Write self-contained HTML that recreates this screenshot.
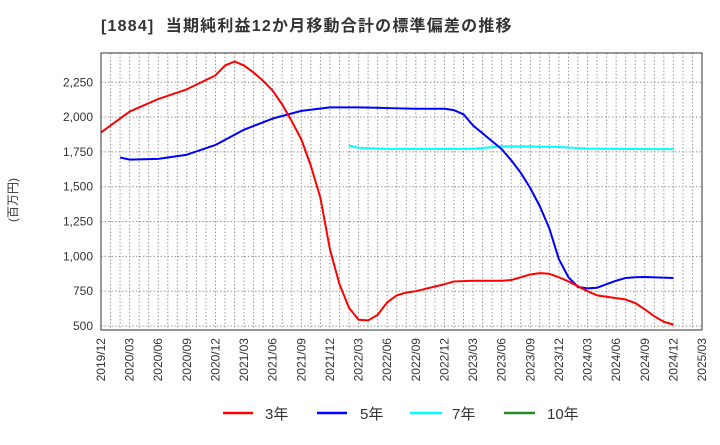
<!DOCTYPE html>
<html><head><meta charset="utf-8"><style>
body{margin:0;background:#fff;font-family:"Liberation Sans","Noto Sans CJK JP",sans-serif;}
svg text{font-family:"Liberation Sans","Noto Sans CJK JP",sans-serif;}
</style></head><body>
<svg id="chart" width="720" height="440" xmlns="http://www.w3.org/2000/svg">
<text x="101" y="31" font-size="16" font-weight="bold" letter-spacing="1.2" fill="#333" xml:space="preserve">[1884]  当期純利益12か月移動合計の標準偏差の推移</text>
<text transform="translate(17,200) rotate(-90)" font-size="12" fill="#333" text-anchor="middle">(百万円)</text>
<g id="grid"></g><g id="series"></g><g id="axes"></g>
<g>
<line x1="223" y1="413" x2="253" y2="413" stroke="#ff0000" stroke-width="2.5"/>
<text x="265" y="419" font-size="15" fill="#333">3年</text>
<line x1="317" y1="413" x2="347" y2="413" stroke="#0000ff" stroke-width="2.5"/>
<text x="360" y="419" font-size="15" fill="#333">5年</text>
<line x1="410" y1="413" x2="442" y2="413" stroke="#00ffff" stroke-width="2.5"/>
<text x="452" y="419" font-size="15" fill="#333">7年</text>
<line x1="504" y1="413" x2="535" y2="413" stroke="#228b22" stroke-width="2.5"/>
<text x="547" y="419" font-size="15" fill="#333">10年</text>
</g>
</svg>
<script>
const xTickLabels=["2019/12","2020/03","2020/06","2020/09","2020/12","2021/03","2021/06","2021/09","2021/12","2022/03","2022/06","2022/09","2022/12","2023/03","2023/06","2023/09","2023/12","2024/03","2024/06","2024/09","2024/12","2025/03"];
const yTicks=[500,750,1000,1250,1500,1750,2000,2250];
const s3Dates=["2019/12","2020/03","2020/06","2020/09","2020/12","2021/01","2021/02","2021/03","2021/04","2021/05","2021/06","2021/07","2021/08","2021/09","2021/10","2021/11","2021/12","2022/01","2022/02","2022/03","2022/04","2022/05","2022/06","2022/07","2022/08","2022/09","2022/12","2023/01","2023/03","2023/06","2023/07","2023/09","2023/10","2023/11","2023/12","2024/01","2024/03","2024/04","2024/06","2024/07","2024/08","2024/09","2024/10","2024/11","2024/12"];
const s3Values=[1890,2040,2130,2200,2300,2370,2400,2370,2320,2260,2190,2090,1970,1840,1650,1420,1050,800,630,545,540,580,670,720,740,750,800,820,825,825,830,870,880,875,850,820,750,720,700,690,665,620,570,530,510];
const s5Dates=["2020/02","2020/03","2020/06","2020/09","2020/12","2021/03","2021/06","2021/09","2021/12","2022/03","2022/06","2022/09","2022/12","2023/01","2023/02","2023/03","2023/06","2023/07","2023/08","2023/09","2023/10","2023/11","2023/12","2024/01","2024/02","2024/03","2024/04","2024/05","2024/06","2024/07","2024/08","2024/09","2024/12"];
const s5Values=[1710,1695,1700,1730,1800,1910,1990,2045,2070,2070,2065,2060,2060,2050,2020,1940,1770,1690,1600,1490,1360,1200,980,850,780,770,775,800,825,845,850,852,845];
const s7Dates=["2022/02","2022/03","2022/06","2022/09","2022/12","2023/03","2023/06","2023/09","2023/12","2024/03","2024/06","2024/09","2024/12"];
const s7Values=[1795,1780,1772,1772,1772,1773,1790,1790,1785,1775,1772,1770,1770];
const NS="http://www.w3.org/2000/svg";
const L=101,R=702,T=53,B=330;
function mi(d){const[y,m]=d.split("/").map(Number);return (y-2019)*12+m-12;}
function xS(d){return L+mi(d)*(R-L)/63;}
function yS(v){return 326-(v-500)*(326-82.3)/1750;}
function el(t,a,p){const e=document.createElementNS(NS,t);for(const k in a)e.setAttribute(k,a[k]);p.appendChild(e);return e;}
const grid=document.getElementById("grid"),axes=document.getElementById("axes"),ser=document.getElementById("series");
for(let m=1;m<63;m++){const x=L+m*(R-L)/63;const g=el("line",{x1:x,y1:T,x2:x,y2:B,stroke:"#999","stroke-dasharray":"1.5,2","stroke-width":1},grid);

}
yTicks.forEach(v=>{const y=yS(v);const g=el("line",{x1:L,y1:y,x2:R,y2:y,stroke:"#999","stroke-dasharray":"1.5,2","stroke-width":1},grid);


const t=el("text",{x:L-8,y:y+4,"font-size":12,fill:"#333","text-anchor":"end"},axes);t.textContent=v.toLocaleString("en-US");

});
xTickLabels.forEach(d=>{const x=xS(d);const t=el("text",{transform:`translate(${x+4},${B+8}) rotate(-90)`,"font-size":12,fill:"#333","text-anchor":"end"},axes);t.textContent=d;

});
const fr=el("rect",{x:L,y:T,width:R-L,height:B-T,fill:"none",stroke:"#333","stroke-width":1},axes);


function line(ds,vs,c,n){const p=el("polyline",{points:ds.map((d,i)=>xS(d)+","+yS(vs[i])).join(" "),fill:"none",stroke:c,"stroke-width":2,"stroke-linejoin":"round"},ser);

}
line(s7Dates,s7Values,"#00ffff","series-7y");
line(s5Dates,s5Values,"#0000ff","series-5y");
line(s3Dates,s3Values,"#ff0000","series-3y");
</script>
</body></html>
